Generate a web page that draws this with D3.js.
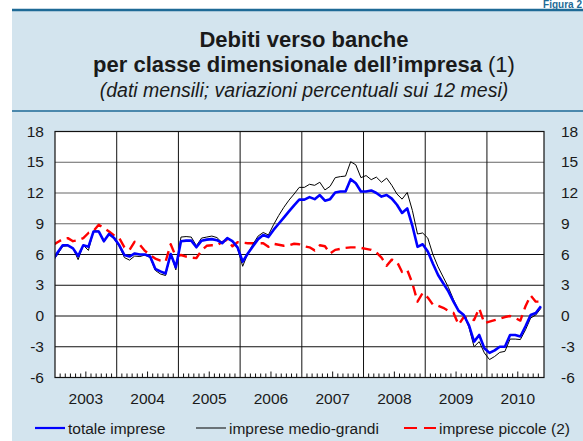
<!DOCTYPE html>
<html>
<head>
<meta charset="utf-8">
<script src="https://cdn.jsdelivr.net/npm/d3@7"></script>
<style>
  body { margin: 0; background: #fff; }
  svg { display: block; font-family: "Liberation Sans", Arial, sans-serif; }
</style>
</head>
<body>
<svg id="chart" width="583" height="441"></svg>
<script>
// monthly data, Dec 2002 .. Nov 2010 (the first point falls just left of the plot and is clipped)
const startMonth = -1; // months from Jan 2003
const totale = [5.4, 6.2, 6.9, 6.9, 6.6, 5.85, 6.9, 6.75, 8.25, 8.25, 7.3, 8.0, 7.6,
  6.9, 5.95, 5.8, 6.1, 6.0, 6.0, 5.8, 4.6, 4.35, 4.15, 6.05, 4.75,
  7.3, 7.35, 7.35, 6.7, 7.35, 7.45, 7.5, 7.4, 7.1, 7.6, 7.3, 6.7,
  5.3, 6.1, 6.8, 7.5, 7.9, 7.7, 8.4, 9.0, 9.6, 10.2, 10.8, 11.35,
  11.35, 11.6, 11.4, 11.8, 11.25, 11.4, 12.05, 12.15, 12.15, 13.35, 12.95, 12.15,
  12.15, 12.25, 12.0, 11.65, 11.8, 11.45, 10.85, 10.05, 10.5, 8.8, 6.75, 7.0,
  6.3, 5.1, 4.0, 3.2, 2.4, 1.4, 0.5, 0.1, -0.9, -2.5, -1.85, -3.15,
  -3.6, -3.35, -3.0, -3.0, -1.85, -1.85, -2.0, -1.0, 0.1, 0.3, 0.95];
const medioGrandi = [5.3, 6.0, 6.8, 6.85, 6.6, 5.5, 6.9, 6.4, 8.3, 8.3, 7.2, 8.05, 7.5,
  6.8, 5.7, 5.45, 5.85, 5.8, 5.95, 5.7, 4.45, 4.1, 3.95, 6.05, 4.5,
  7.7, 7.75, 7.7, 6.85, 7.6, 7.7, 7.8, 7.65, 7.15, 7.65, 7.3, 6.6,
  4.85, 6.1, 7.0, 7.8, 8.15, 7.9, 8.9, 9.8, 10.6, 11.3, 11.9, 12.55,
  12.55, 12.85, 12.75, 13.05, 12.3, 12.65, 13.5, 13.6, 13.65, 15.05, 14.75, 13.5,
  13.7, 13.3, 13.55, 13.05, 13.45, 12.75, 11.9, 11.4, 12.05, 10.3, 8.0, 8.1,
  7.6, 6.0, 4.8, 3.8, 2.8, 1.6, 0.5, 0.1, -1.1, -3.0, -2.5, -3.6,
  -4.25, -3.95, -3.55, -3.45, -2.25, -2.25, -2.3, -1.35, -0.2, 0.1, 0.75];
const piccole = [6.9, 7.2, 7.5, 7.6, 7.3, 7.4, 7.6, 8.1, 8.3, 8.9, 8.6, 8.25, 7.85,
  7.6, 6.7, 6.45, 7.25, 6.95, 6.35, 5.95, 5.6, 5.4, 5.3, 7.0, 5.8,
  5.95, 5.8, 5.7, 5.65, 6.4, 6.85, 6.9, 6.9, 7.2, 7.45, 6.8, 7.2,
  7.15, 7.1, 7.1, 7.1, 7.1, 6.75, 7.05, 6.95, 6.85, 6.9, 7.05, 7.0,
  6.8, 6.7, 6.4, 6.9, 6.8, 6.1, 6.45, 6.55, 6.65, 6.7, 6.7, 6.65,
  6.55, 6.45, 6.2, 5.7, 4.9, 5.5, 5.3, 4.3, 4.5, 3.2, 1.4, 2.25,
  1.8, 1.1, 1.0, 0.8, 0.5, 0.3, -0.85, -0.1, -0.25, -0.4, 0.75, -0.7,
  -0.55, -0.4, -0.25, -0.1, 0.0, -0.2, -0.45, 0.95, 2.0, 1.4, 1.4];
const years = [2003, 2004, 2005, 2006, 2007, 2008, 2009, 2010];
const yTicks = [-6, -3, 0, 3, 6, 9, 12, 15, 18];

const series = [
  { name: "totale imprese", values: totale, color: "#0000ff", width: 2.6, dash: null },
  { name: "imprese medio-grandi", values: medioGrandi, color: "#000000", width: 1, dash: null },
  { name: "imprese piccole (2)", values: piccole, color: "#ff0000", width: 2.4, dash: "10,6" }
];

const svg = d3.select("#chart");
const bg = "#d3e4ee";
const frame = "#1e6a96";

// panel
svg.append("rect").attr("x", 12).attr("y", 10).attr("width", 571).attr("height", 431).attr("fill", bg);
svg.append("line").attr("x1", 12).attr("x2", 583).attr("y1", 10).attr("y2", 10)
  .attr("stroke", frame).attr("stroke-width", 2.5);
svg.append("line").attr("x1", 12).attr("x2", 583).attr("y1", 111).attr("y2", 111)
  .attr("stroke", frame).attr("stroke-width", 1.5);
svg.append("text").attr("x", 582).attr("y", 8).attr("text-anchor", "end")
  .attr("font-weight", "bold").attr("font-size", 10).attr("fill", frame).text("Figura 2");

// titles
const cx = 304;
svg.append("text").attr("x", cx).attr("y", 47).attr("text-anchor", "middle")
  .attr("font-weight", "bold").attr("font-size", 22).attr("fill", "#1a1a1a").text("Debiti verso banche");
const t2 = svg.append("text").attr("x", cx).attr("y", 72).attr("text-anchor", "middle")
  .attr("font-size", 22).attr("fill", "#1a1a1a");
t2.append("tspan").attr("font-weight", "bold").text("per classe dimensionale dell\u2019impresa");
t2.append("tspan").text(" (1)");
svg.append("text").attr("x", cx).attr("y", 97).attr("text-anchor", "middle")
  .attr("font-style", "italic").attr("font-size", 19.5).attr("fill", "#1a1a1a")
  .text("(dati mensili; variazioni percentuali sui 12 mesi)");

// plot area
const pLeft = 55, pRight = 544, pTop = 131.5, pBottom = 377.5;
const x = d3.scaleLinear().domain([0, 95.1]).range([pLeft, pRight]);
const y = d3.scaleLinear().domain([-6, 18]).range([pBottom, pTop]);
const xc = (i) => x(startMonth + i + 0.5);

svg.append("rect").attr("x", pLeft).attr("y", pTop).attr("width", pRight - pLeft).attr("height", pBottom - pTop)
  .attr("fill", "#fff");
svg.append("clipPath").attr("id", "clip").append("rect")
  .attr("x", pLeft).attr("y", pTop).attr("width", pRight - pLeft).attr("height", pBottom - pTop);

// horizontal grid
svg.append("g").selectAll("line").data(yTicks.slice(1, -1)).join("line")
  .attr("x1", pLeft).attr("x2", pRight).attr("y1", (d) => y(d)).attr("y2", (d) => y(d))
  .attr("stroke", (d) => (d >= 9 ? "#666" : "#111")).attr("stroke-width", 1);
// year grid
svg.append("g").selectAll("line").data(years.slice(1)).join("line")
  .attr("x1", (d) => x((d - 2003) * 12)).attr("x2", (d) => x((d - 2003) * 12))
  .attr("y1", pTop).attr("y2", pBottom).attr("stroke", "#111").attr("stroke-width", 1);
// month ticks
svg.append("g").selectAll("line").data(d3.range(1, 95).filter((m) => m % 12 !== 0)).join("line")
  .attr("x1", (d) => x(d)).attr("x2", (d) => x(d))
  .attr("y1", pBottom).attr("y2", (d) => pBottom - (d % 12 === 6 ? 6 : 4))
  .attr("stroke", "#111").attr("stroke-width", 1);

// lines
const lineGen = (vals) => d3.line().x((d, i) => xc(i)).y((d) => y(d))(vals);
const lines = svg.append("g").attr("clip-path", "url(#clip)");
[series[2], series[1], series[0]].forEach((s) => {
  lines.append("path").attr("d", lineGen(s.values)).attr("fill", "none")
    .attr("stroke", s.color).attr("stroke-width", s.width)
    .attr("stroke-dasharray", s.dash).attr("stroke-linejoin", "round");
});

// frame
svg.append("rect").attr("x", pLeft).attr("y", pTop).attr("width", pRight - pLeft).attr("height", pBottom - pTop)
  .attr("fill", "none").attr("stroke", "#111").attr("stroke-width", 1.2);

// y labels both sides
const yl = svg.append("g").attr("font-size", 15.5).attr("fill", "#1a1a1a");
yl.selectAll(".yl").data(yTicks).join("text").attr("class", "yl")
  .attr("x", 44).attr("y", (d) => y(d) + 5).attr("text-anchor", "end").text((d) => d);
yl.selectAll(".yr").data(yTicks).join("text").attr("class", "yr")
  .attr("x", 561).attr("y", (d) => y(d) + 5).attr("text-anchor", "start").text((d) => d);

// year labels
svg.append("g").attr("font-size", 15.5).attr("fill", "#1a1a1a").selectAll("text").data(years).join("text")
  .attr("x", (d) => x((d - 2003) * 12 + 6)).attr("y", 404).attr("text-anchor", "middle").text((d) => d);

// legend
const legend = [
  { s: series[0], x1: 35, x2: 65, tx: 68 },
  { s: series[1], x1: 196, x2: 226, tx: 229 },
  { s: series[2], x1: 404, x2: 436, tx: 439 }
];
const lg = svg.append("g");
legend.forEach((l) => {
  lg.append("line").attr("x1", l.x1).attr("x2", l.x2).attr("y1", 428).attr("y2", 428)
    .attr("stroke", l.s.color).attr("stroke-width", l.s.width === 1 ? 1 : 2.2)
    .attr("stroke-dasharray", l.s.dash ? "13,7" : null);
  lg.append("text").attr("x", l.tx).attr("y", 433.5).attr("font-size", 15.5).attr("fill", "#1a1a1a").text(l.s.name);
});
</script>
</body>
</html>
